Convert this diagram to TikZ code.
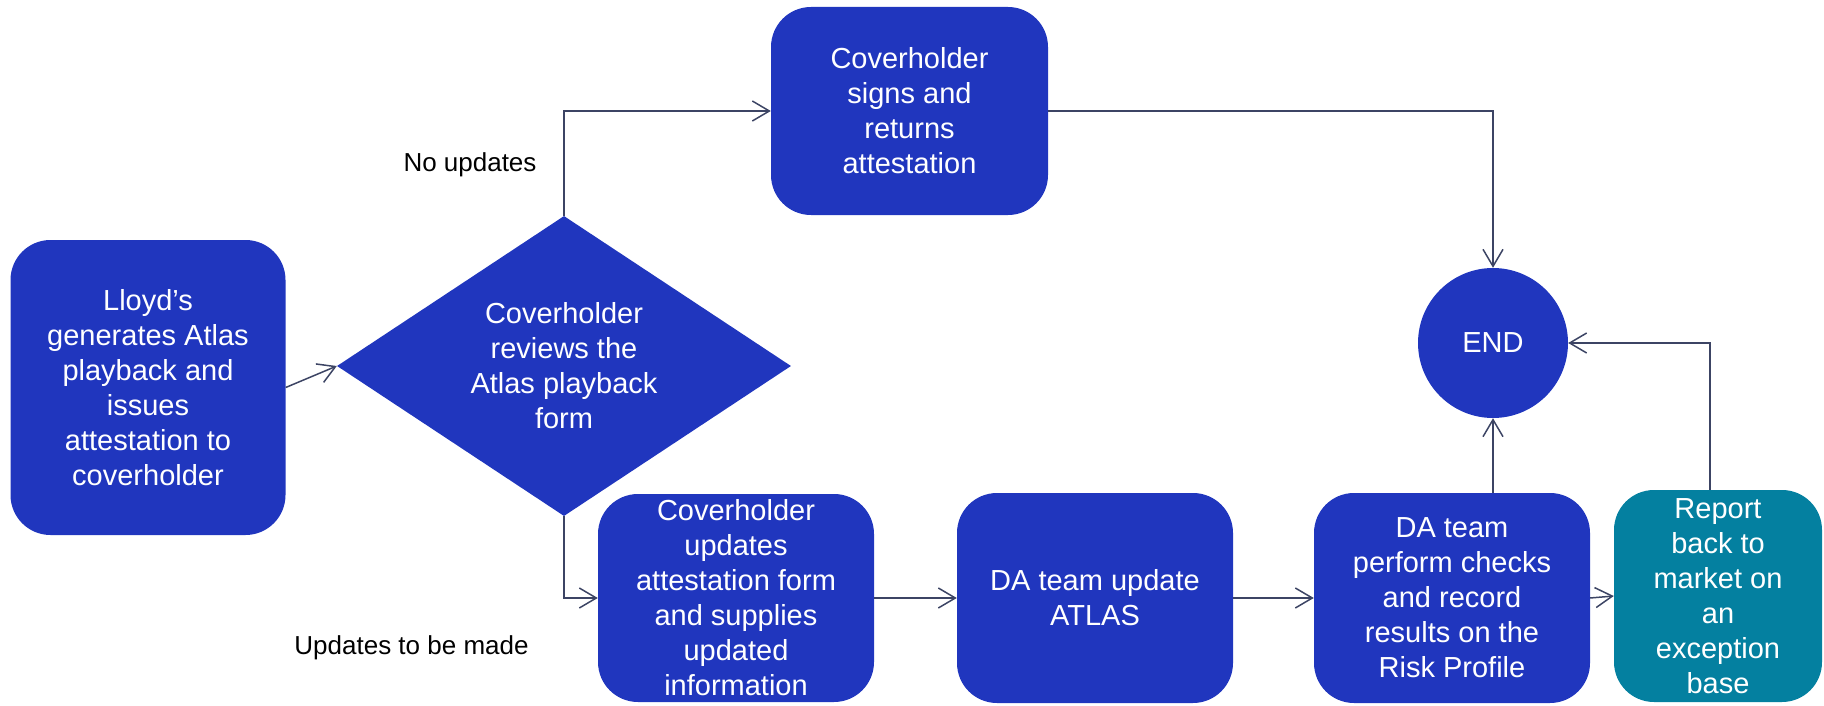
\documentclass[tikz,border=0pt]{standalone}
\usepackage{fontspec}
\setmainfont{Liberation Sans}
\usetikzlibrary{shapes.geometric,arrows.meta}
\definecolor{boxblue}{RGB}{32,54,190}
\definecolor{boxteal}{RGB}{4,128,160}
\definecolor{linecol}{RGB}{60,68,100}
\tikzset{
  proc/.style={draw=none, fill=boxblue, rounded corners=40pt, text=white, align=center,
    inner sep=0pt, font=\fontsize{29}{35}\selectfont},
  dec/.style={draw=none, fill=boxblue, diamond, aspect=1.51, text=white, align=center, inner sep=0pt,
    font=\fontsize{29}{35}\selectfont},
  lbl/.style={text=black, font=\fontsize{26}{31}\selectfont, inner sep=0pt},
  conn/.style={draw=linecol, line width=1.5pt, -{Straight Barb[length=17pt,width=20pt,line width=1.5pt]}},
}
\begin{document}
\begin{tikzpicture}[x=1pt,y=-1pt]
\useasboundingbox (0,0) rectangle (1824,706);
\node[proc, minimum width=275pt, minimum height=295pt] (lloyd) at (148,387.5)
  {Lloyd’s\\generates Atlas\\playback and\\issues\\attestation to\\coverholder};
\node[dec, minimum width=454pt, minimum height=300pt] (dia) at (564,366)
  {Coverholder\\reviews the\\Atlas playback\\form};
\node[proc, minimum width=277pt, minimum height=208pt] (signs) at (909.5,111)
  {Coverholder\\signs and\\returns\\attestation};
\node[circle, fill=boxblue, draw=none, text=white, minimum size=150pt, inner sep=0pt,
  font=\fontsize{29}{35}\selectfont] (end) at (1493,343) {END};
\node[proc, minimum width=276pt, minimum height=208pt] (upd) at (736,598)
  {Coverholder\\updates\\attestation form\\and supplies\\updated\\information};
\node[proc, minimum width=276pt, minimum height=210pt] (dau) at (1095,598)
  {DA team update\\ATLAS};
\node[proc, minimum width=276pt, minimum height=210pt] (dap) at (1452,598)
  {DA team\\perform checks\\and record\\results on the\\Risk Profile};
\node[proc, fill=boxteal, minimum width=208pt, minimum height=212pt] (rep) at (1718,596)
  {Report\\back to\\market on\\an\\exception\\base};
\node[lbl] (noupd) at (470,165) {No updates};
\node[lbl] (updm) at (411.5,648) {Updates to be made};
\coordinate (repup) at ([xshift=-8pt]rep.north);
\draw[conn] (lloyd.east) -- (dia.west);
\draw[conn] (dia.north) |- (signs.west);
\draw[conn] (signs.east) -| (end.north);
\draw[conn] (dia.south) |- (upd.west);
\draw[conn] (upd.east) -- (dau.west);
\draw[conn] (dau.east) -- (dap.west);
\draw[conn] (dap.east) -- (rep.west);
\draw[conn] (dap.north -| end.south) -- (end.south);
\draw[conn] (repup) |- (end.east);
\end{tikzpicture}
\end{document}
